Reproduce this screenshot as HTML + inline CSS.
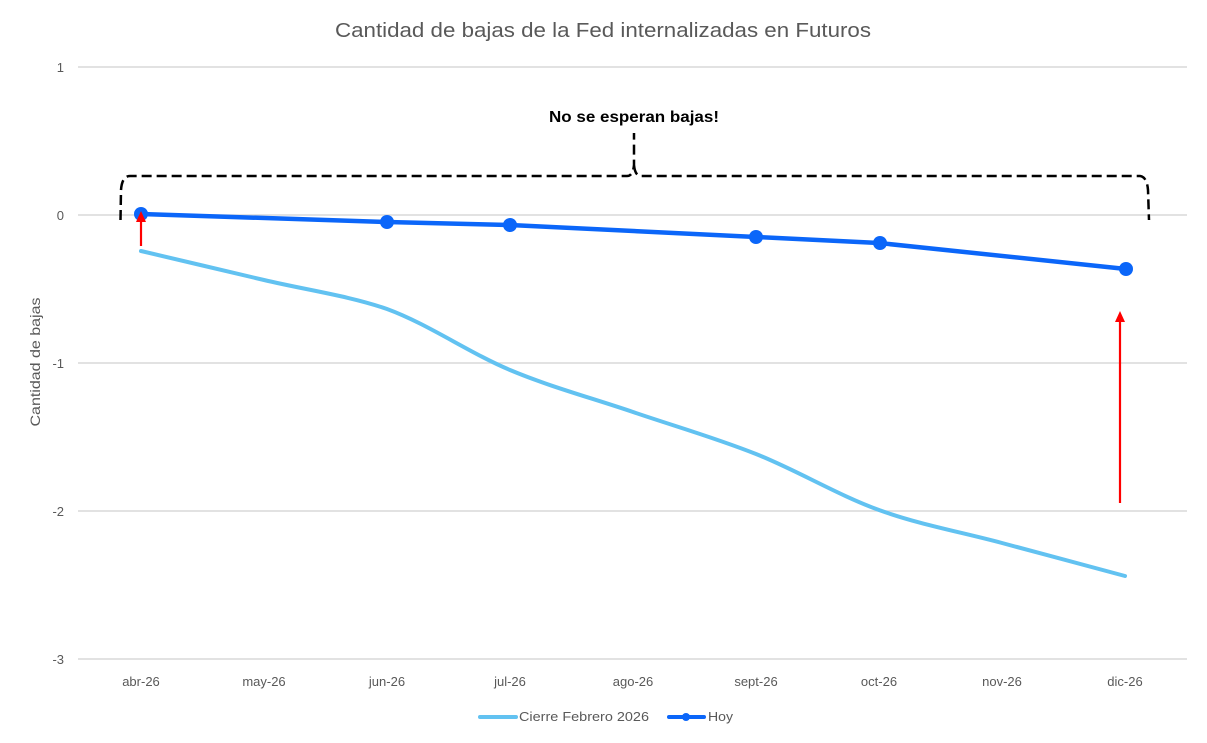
<!DOCTYPE html>
<html><head><meta charset="utf-8"><style>
html,body{margin:0;padding:0;background:#fff;}
svg{display:block;}
text{font-family:"Liberation Sans",sans-serif;}
</style></head><body>
<svg width="1207" height="743" viewBox="0 0 1207 743" xmlns="http://www.w3.org/2000/svg">
<rect width="1207" height="743" fill="#fff"/>
<text x="603" y="37" text-anchor="middle" font-size="20" fill="#595959" textLength="536" lengthAdjust="spacingAndGlyphs">Cantidad de bajas de la Fed internalizadas en Futuros</text>
<g stroke="#d9d9d9" stroke-width="1.5">
<line x1="78" y1="67" x2="1187" y2="67"/>
<line x1="78" y1="215" x2="1187" y2="215"/>
<line x1="78" y1="363" x2="1187" y2="363"/>
<line x1="78" y1="511" x2="1187" y2="511"/>
<line x1="78" y1="659" x2="1187" y2="659"/>
</g>
<g font-size="13" fill="#595959" text-anchor="end">
<text x="64" y="72">1</text>
<text x="64" y="220">0</text>
<text x="64" y="368">-1</text>
<text x="64" y="516">-2</text>
<text x="64" y="664">-3</text>
</g>
<text transform="translate(40,362) rotate(-90)" text-anchor="middle" font-size="14" fill="#595959" textLength="129" lengthAdjust="spacingAndGlyphs">Cantidad de bajas</text>
<g font-size="13" fill="#595959" text-anchor="middle">
<text x="141" y="686">abr-26</text>
<text x="264" y="686">may-26</text>
<text x="387" y="686">jun-26</text>
<text x="510" y="686">jul-26</text>
<text x="633" y="686">ago-26</text>
<text x="756" y="686">sept-26</text>
<text x="879" y="686">oct-26</text>
<text x="1002" y="686">nov-26</text>
<text x="1125" y="686">dic-26</text>
</g>
<path d="M141,251 C182,260.7 223,270.3 264,280 C305,289.7 350,296 387,309 C428,324 469,352.8 510,370 C551,387.2 592,398 633,412 C674,426 715,437.7 756,454 C797,470.3 838,495.2 879,510 C920,524.8 961,532 1002,543 C1043,554 1104.5,570.5 1125,576" fill="none" stroke="#62c2f1" stroke-width="4" stroke-linecap="round"/>
<polyline points="141,214 387,222 510,225 756,237 879,243 1126,269" fill="none" stroke="#0b66f9" stroke-width="4.5" stroke-linejoin="round" stroke-linecap="round"/>
<g fill="#0b66f9">
<circle cx="141" cy="214" r="7"/>
<circle cx="387" cy="222" r="7"/>
<circle cx="510" cy="225" r="7"/>
<circle cx="756" cy="237" r="7"/>
<circle cx="880" cy="243" r="7"/>
<circle cx="1126" cy="269" r="7"/>
</g>
<g stroke="#ff0000" stroke-width="2.2" fill="#ff0000">
<line x1="141" y1="246" x2="141" y2="222"/>
<polygon points="141,211 136,222 146,222" stroke="none"/>
<line x1="1120" y1="503" x2="1120" y2="320"/>
<polygon points="1120,311 1115,322 1125,322" stroke="none"/>
</g>
<path d="M120.5,220 L121,190 Q122,176 130,176 L627,176 Q633,176 634,165 L634,133 M634,165 Q635,176 641,176 L1140,176 Q1147,177 1148,190 L1149,220" fill="none" stroke="#000" stroke-width="2.5" stroke-dasharray="10,5"/>
<text x="634" y="122" text-anchor="middle" font-size="16" font-weight="bold" fill="#000" textLength="170" lengthAdjust="spacingAndGlyphs">No se esperan bajas!</text>
<line x1="480" y1="717" x2="516" y2="717" stroke="#62c2f1" stroke-width="4" stroke-linecap="round"/>
<text x="519" y="721" font-size="13" fill="#595959" textLength="130" lengthAdjust="spacingAndGlyphs">Cierre Febrero 2026</text>
<line x1="669" y1="717" x2="704" y2="717" stroke="#0b66f9" stroke-width="4" stroke-linecap="round"/>
<circle cx="686" cy="717" r="4" fill="#0b66f9"/>
<text x="708" y="721" font-size="13" fill="#595959" textLength="25" lengthAdjust="spacingAndGlyphs">Hoy</text>
</svg>
</body></html>
